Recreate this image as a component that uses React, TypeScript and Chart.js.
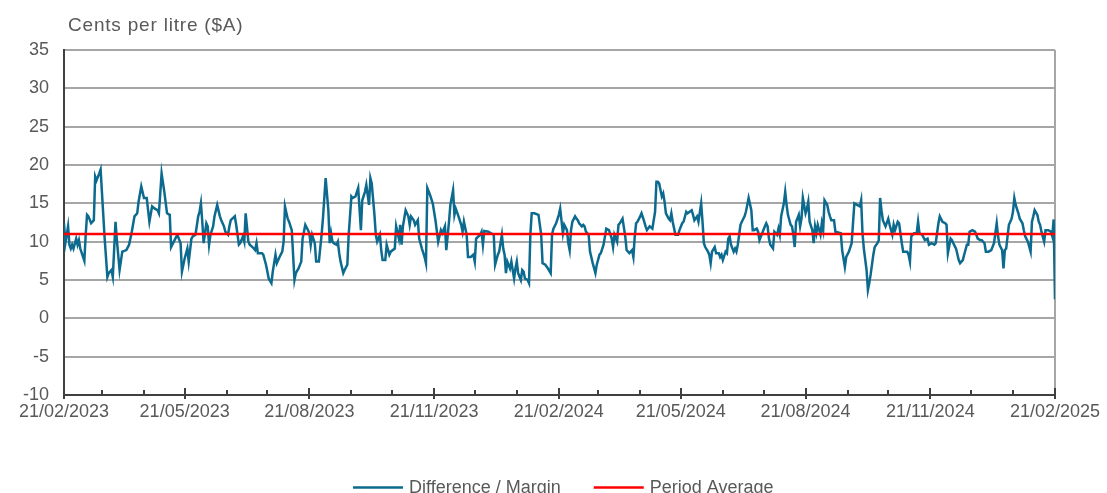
import { useEffect, useRef } from "react";
import { Chart, registerables } from "chart.js";

Chart.register(...registerables);

// ---- Data -------------------------------------------------------------
const unitTitle = "Cents per litre ($A)";
const seriesLabels = ["Difference / Margin", "Period Average"];
const startDate = "21/02/2023";
const xTickLabels = [
  "21/02/2023", "21/05/2023", "21/08/2023", "21/11/2023", "21/02/2024",
  "21/05/2024", "21/08/2024", "21/11/2024", "21/02/2025",
];
const yMin = -10;
const yMax = 35;
const yStep = 5;
const periodAverage = 11.0;

// days since 21/02/2023
const dayOffsets = [
  0, 1, 3, 4, 5, 6, 7, 9, 10, 11, 12, 15, 16, 17, 18, 20, 22, 23, 24, 26,
  27, 30, 32, 33, 35, 36, 38, 39, 41, 43, 46, 48, 50, 52, 54, 55, 57, 59, 61, 63,
  65, 67, 69, 70, 72, 74, 76, 78, 79, 81, 83, 84, 86, 87,
  89, 91, 92, 94, 95, 97, 99, 100, 101, 102, 103, 105, 106, 107, 108, 110, 111, 113, 115, 116,
  118, 119, 121, 122, 123, 126, 127, 129, 130, 132, 133, 134, 136, 137, 139, 141, 142, 143, 146, 147,
  149, 150, 151, 153, 154, 156, 157, 159, 161, 162, 163, 165, 166, 168, 170, 171, 173, 175, 176, 178,
  180, 181, 182, 183,
  185, 186, 188, 190, 191, 193, 195, 196, 197, 198, 199, 201, 202, 203, 204, 206, 207, 209, 210, 212,
  213, 215, 217, 219, 220, 222, 223, 225, 226, 227, 229, 230, 231, 233, 234, 235, 237, 238, 240, 241,
  244, 245, 247, 248, 249, 250, 252, 254, 255, 256, 258, 259, 261, 262, 264, 266, 267, 268, 270, 272,
  274, 276,
  278, 279, 281, 282, 284, 285, 287, 288, 289, 291, 293, 294, 295, 297, 298, 300, 302, 303, 304, 307,
  308, 309, 310, 313, 315, 317, 318, 320, 321, 323, 324, 325, 326, 327, 329, 330, 332, 333, 334, 335,
  337, 338, 339, 340, 342, 343, 344, 345, 347, 350, 352, 353, 355, 357, 359, 360, 361, 363, 365, 366,
  368, 369, 371, 372, 373, 374, 375, 377, 378, 379, 380, 382, 383, 384, 385, 387, 388, 390, 392, 393,
  395, 396, 398, 400, 402, 404, 405, 406, 408, 409, 410, 412, 414, 415, 417, 419, 420, 421, 422, 423,
  425, 426, 428, 429, 430, 432, 434, 436, 437, 438, 439, 441, 442, 443, 444, 446, 447, 448, 449, 451,
  453, 454, 456, 457, 459, 460,
  463, 464, 465, 467, 468, 470, 471, 472, 473, 475, 476, 477, 478, 480, 481, 483, 484, 485, 486, 488,
  489, 490, 491, 492, 494, 495, 496, 497, 499, 500, 502, 503, 504, 505, 507, 508, 509, 511, 512, 513,
  515, 517, 518, 519, 520, 521, 523, 524, 526, 527, 528, 529, 531, 532, 533, 534, 536, 537, 538, 539,
  540, 542, 543, 544, 545, 547, 548, 549, 550, 552, 553,
  554, 555, 556, 558, 559, 560, 561, 563, 564, 565, 566, 568, 569, 571, 573, 574, 576, 577, 579, 581,
  582, 583, 585, 587, 588, 589, 590, 592, 593, 594, 595, 597, 598, 600, 601, 602, 603, 604, 606, 608,
  609, 611, 612, 613, 615, 616, 618, 619, 622, 623, 624, 625, 627, 629, 630, 631, 633, 635, 637, 638,
  640, 642, 643, 645, 646,
  648, 650, 651, 652, 654, 655, 656, 658, 660, 661, 663, 664, 666, 667, 668, 670, 672, 673, 674, 676,
  677, 679, 680, 682, 684, 686, 687, 688, 689, 690, 692, 693, 694, 695, 696, 697, 699, 700, 701, 702,
  704, 705, 707, 708, 709, 711, 713, 714, 715, 716, 718, 719, 720, 721, 723, 724, 726, 728, 729, 730,
  731,
];

const margins = [
  12.4, 9.8, 12.0, 9.6, 9.1, 9.6, 9.1, 10.4, 9.6, 10.2, 9.1, 7.5, 10.9, 13.5, 13.3, 12.4, 12.8, 18.5, 18.0, 18.9,
  19.4, 10.4, 5.4, 5.9, 6.3, 5.4, 12.6, 10.2, 6.3, 8.7, 8.9, 9.6, 11.3, 13.3, 13.7, 15.2, 17.2, 15.7, 15.7, 12.6,
  14.6, 14.3, 14.1, 13.7, 18.9, 16.5, 13.7, 13.5, 9.3, 10.0, 10.7, 10.7, 9.8, 6.1,
  7.8, 9.1, 7.4, 10.4, 10.7, 10.9, 13.3, 13.9, 15.0, 12.6, 9.8, 12.4, 12.0, 9.6, 10.9, 12.0, 13.3, 14.8, 13.3, 12.8,
  12.0, 11.3, 10.9, 12.0, 12.8, 13.3, 12.2, 9.6, 9.8, 10.7, 10.0, 13.7, 10.0, 9.6, 9.3, 8.9, 9.8, 8.5, 8.5, 8.3,
  7.0, 6.1, 5.2, 4.6, 6.1, 8.3, 7.2, 8.0, 8.7, 10.0, 14.6, 13.0, 12.6, 11.5, 5.0, 5.9, 6.5, 7.4, 10.4, 12.2,
  11.5, 11.1, 9.6, 10.9,
  9.8, 7.4, 7.4, 10.9, 13.0, 18.3, 14.1, 9.8, 11.1, 10.0, 9.8, 9.6, 10.0, 8.5, 7.4, 5.9, 6.3, 7.0, 10.9, 15.9,
  15.7, 15.9, 17.0, 11.5, 15.4, 16.5, 17.4, 14.8, 18.3, 17.6, 13.5, 10.9, 10.0, 10.9, 8.9, 7.6, 7.6, 9.6, 8.3, 8.7,
  9.1, 12.0, 10.4, 12.2, 9.6, 12.0, 14.1, 13.3, 12.2, 13.3, 12.8, 12.2, 12.8, 10.4, 9.1, 8.0, 7.2, 17.0, 16.1, 15.0,
  12.8, 10.0,
  11.5, 11.1, 12.0, 8.9, 12.6, 14.8, 16.7, 13.5, 14.3, 13.3, 12.2, 11.3, 12.6, 10.9, 8.0, 8.0, 8.3, 7.4, 10.4, 10.9,
  11.3, 9.6, 11.4, 11.3, 11.1, 10.9, 7.0, 8.3, 8.7, 10.9, 9.1, 8.3, 5.9, 7.4, 6.5, 7.4, 5.2, 6.5, 7.4, 5.9,
  5.0, 6.3, 6.1, 5.2, 5.0, 4.6, 10.9, 13.7, 13.7, 13.5, 10.9, 7.2, 7.0, 6.5, 5.9, 10.9, 11.7, 12.4, 13.5, 14.3,
  11.1, 12.2, 11.5, 9.8, 8.9, 11.5, 12.6, 13.3, 13.0, 12.8, 12.4, 12.0, 12.2, 12.0, 11.3, 10.9, 8.7, 7.2, 5.9, 7.0,
  8.3, 8.5, 9.6, 11.7, 11.5, 10.4, 9.3, 10.9, 10.0, 12.2, 12.4, 13.0, 10.7, 8.9, 8.5, 8.9, 8.0, 10.7, 12.4, 12.6,
  13.3, 13.7, 12.6, 12.0, 11.5, 12.0, 11.7, 13.9, 17.8, 17.8, 17.6, 15.9, 16.3, 15.2, 13.7, 13.0, 12.8, 13.7, 12.6, 10.9,
  10.9, 11.5, 12.4, 12.6, 13.9, 13.7,
  14.1, 13.5, 12.8, 13.3, 12.6, 15.0, 12.6, 9.8, 9.3, 8.7, 8.3, 7.2, 8.7, 9.3, 8.5, 8.5, 8.0, 8.3, 7.6, 8.7,
  8.5, 10.4, 10.7, 9.6, 8.7, 9.1, 8.7, 9.6, 12.2, 12.6, 13.3, 13.9, 14.8, 15.7, 14.1, 11.5, 11.5, 11.7, 11.3, 10.2,
  11.1, 12.0, 12.4, 12.0, 10.4, 9.6, 9.1, 11.3, 10.9, 11.7, 10.9, 13.3, 15.0, 16.5, 14.8, 13.5, 12.2, 12.0, 10.9, 9.3,
  12.6, 13.5, 12.0, 13.0, 15.7, 13.7, 14.3, 15.2, 12.6, 11.5, 9.8,
  12.0, 11.1, 12.2, 10.9, 12.4, 11.5, 15.4, 14.8, 13.9, 13.3, 12.8, 12.8, 11.3, 11.2, 11.1, 8.9, 6.7, 8.0, 8.7, 9.8,
  12.4, 15.0, 14.8, 14.6, 15.4, 11.1, 9.1, 6.3, 3.7, 4.6, 5.7, 8.3, 9.3, 9.8, 10.2, 15.7, 14.1, 12.8, 12.0, 13.0,
  12.2, 10.9, 12.2, 11.5, 12.6, 12.4, 9.8, 8.7, 8.7, 8.3, 7.4, 10.7, 11.1, 11.1, 12.6, 11.1, 10.9, 10.2, 10.4, 9.6,
  9.8, 9.6, 9.8, 12.4, 13.3,
  12.6, 12.4, 12.2, 8.5, 10.4, 10.2, 9.8, 9.1, 7.6, 7.2, 7.6, 8.3, 9.6, 9.6, 11.3, 11.5, 11.3, 10.9, 10.4, 10.2,
  10.2, 9.8, 8.7, 8.7, 8.9, 9.8, 11.1, 12.4, 10.7, 9.6, 8.9, 6.5, 8.9, 9.1, 10.7, 12.2, 13.0, 13.9, 15.7, 14.8,
  13.7, 13.0, 12.4, 11.5, 10.7, 10.0, 8.7, 12.6, 13.3, 14.1, 13.5, 12.6, 12.2, 11.3, 10.0, 11.5, 11.5, 11.3, 10.7, 12.9,
  2.5,
];

// ---- Helpers ------------------------------------------------------------
const DAY_MS = 86400000;
const parseDMY = (s: string) => {
  const [d, m, y] = s.split("/").map(Number);
  return Date.UTC(y, m - 1, d);
};
const t0 = parseDMY(startDate);
const toDay = (s: string) => Math.round((parseDMY(s) - t0) / DAY_MS);
const majorDays = xTickLabels.map(toDay);
const endDay = majorDays[majorDays.length - 1];

// monthly minor ticks (21st of each month)
const monthDays: number[] = [];
{
  const s = new Date(t0);
  for (let k = 0; ; k++) {
    const t = Date.UTC(s.getUTCFullYear(), s.getUTCMonth() + k, 21);
    const d = Math.round((t - t0) / DAY_MS);
    if (d > endDay) break;
    monthDays.push(d);
  }
}

const FONT = "'Liberation Sans', Arial, Helvetica, sans-serif";
const TEXT = "#595959";
const AXIS = "#404040";
const GRID = "#a6a6a6";
const BLUE = "#0b6a8e";
const RED = "#ff0000";

const decorPlugin = {
  id: "decor",
  beforeDatasetsDraw(chart: any) {
    const { ctx, chartArea: a } = chart;
    ctx.save();
    ctx.strokeStyle = GRID;
    ctx.lineWidth = 2;
    ctx.beginPath();
    ctx.moveTo(a.right, a.top);
    ctx.lineTo(a.right, a.bottom);
    ctx.stroke();
    ctx.restore();
  },
  afterDraw(chart: any) {
    const { ctx, chartArea: a } = chart;
    const x = chart.scales.x;
    ctx.save();
    // unit title above the plot
    ctx.font = `19px ${FONT}`;
    ctx.fillStyle = TEXT;
    ctx.textBaseline = "middle";
    ctx.textAlign = "left";
    try { (ctx as any).letterSpacing = "0.8px"; } catch (e) {}
    ctx.fillText(unitTitle, a.left + 4, 26);
    try { (ctx as any).letterSpacing = "0px"; } catch (e) {}

    ctx.strokeStyle = AXIS;
    ctx.lineWidth = 2;
    monthDays.forEach((d) => {
      const px = Math.round(x.getPixelForValue(d));
      const major = majorDays.includes(d);
      ctx.beginPath();
      ctx.moveTo(px, a.bottom - (major ? 7 : 5));
      ctx.lineTo(px, a.bottom + (major ? 4 : 0));
      ctx.stroke();
    });
    // legend
    ctx.font = `18px ${FONT}`;
    ctx.textBaseline = "middle";
    ctx.textAlign = "left";
    const y = 487.5;
    let cx = 353;
    chart.data.datasets.forEach((ds: any) => {
      ctx.strokeStyle = ds.borderColor;
      ctx.lineWidth = 2.5;
      ctx.beginPath();
      ctx.moveTo(cx, y);
      ctx.lineTo(cx + 50, y);
      ctx.stroke();
      ctx.fillStyle = TEXT;
      ctx.fillText(ds.label, cx + 56, y + 1);
      cx = cx + 56 + ctx.measureText(ds.label).width + 33;
    });
    ctx.restore();
  },
};

export default function App() {
  const ref = useRef<HTMLCanvasElement | null>(null);

  useEffect(() => {
    if (!ref.current) return;
    const chart = new Chart(ref.current, {
      type: "line",
      data: {
        datasets: [
          {
            label: seriesLabels[0],
            data: dayOffsets.map((d, i) => ({ x: d, y: margins[i] })),
            borderColor: BLUE,
            backgroundColor: BLUE,
            borderWidth: 2.5,
            pointRadius: 0,
            tension: 0,
            order: 2,
          },
          {
            label: seriesLabels[1],
            data: [
              { x: 0, y: periodAverage },
              { x: endDay, y: periodAverage },
            ],
            borderColor: RED,
            backgroundColor: RED,
            borderWidth: 2.5,
            pointRadius: 0,
            order: 1,
          },
        ],
      },
      options: {
        responsive: false,
        animation: false,
        layout: { padding: { left: 0, right: 52, top: 50, bottom: 0 } },
        plugins: {
          legend: { display: false },
          tooltip: { enabled: false },
          title: { display: false },
        },
        scales: {
          x: {
            type: "linear",
            min: 0,
            max: endDay,
            afterBuildTicks: (s: any) => {
              s.ticks = majorDays.map((v) => ({ value: v }));
            },
            afterFit: (s: any) => {
              s.height = 98;
            },
            ticks: {
              autoSkip: false,
              maxRotation: 0,
              padding: 6,
              color: TEXT,
              font: { family: FONT, size: 18 },
              callback: (v: any) => {
                const i = majorDays.indexOf(Number(v));
                return i >= 0 ? xTickLabels[i] : "";
              },
            },
            grid: { display: false, drawTicks: false },
            border: { display: true, color: AXIS, width: 2 },
          },
          y: {
            min: yMin,
            max: yMax,
            afterFit: (s: any) => {
              s.width = 64;
            },
            ticks: {
              stepSize: yStep,
              padding: 15,
              color: TEXT,
              font: { family: FONT, size: 18 },
            },
            grid: {
              drawTicks: false,
              lineWidth: 2,
              color: (c: any) => (c.tick && c.tick.value === yMin ? "rgba(0,0,0,0)" : GRID),
            },
            border: { display: true, color: AXIS, width: 2 },
          },
        },
      },
      plugins: [decorPlugin],
    } as any);
    return () => chart.destroy();
  }, []);

  return (
    <div style={{ position: "absolute", left: 0, top: 0, width: 1107, height: 493, background: "#fff" }}>
      <canvas ref={ref} width={1107} height={493} style={{ width: 1107, height: 493, display: "block" }} />
    </div>
  );
}
